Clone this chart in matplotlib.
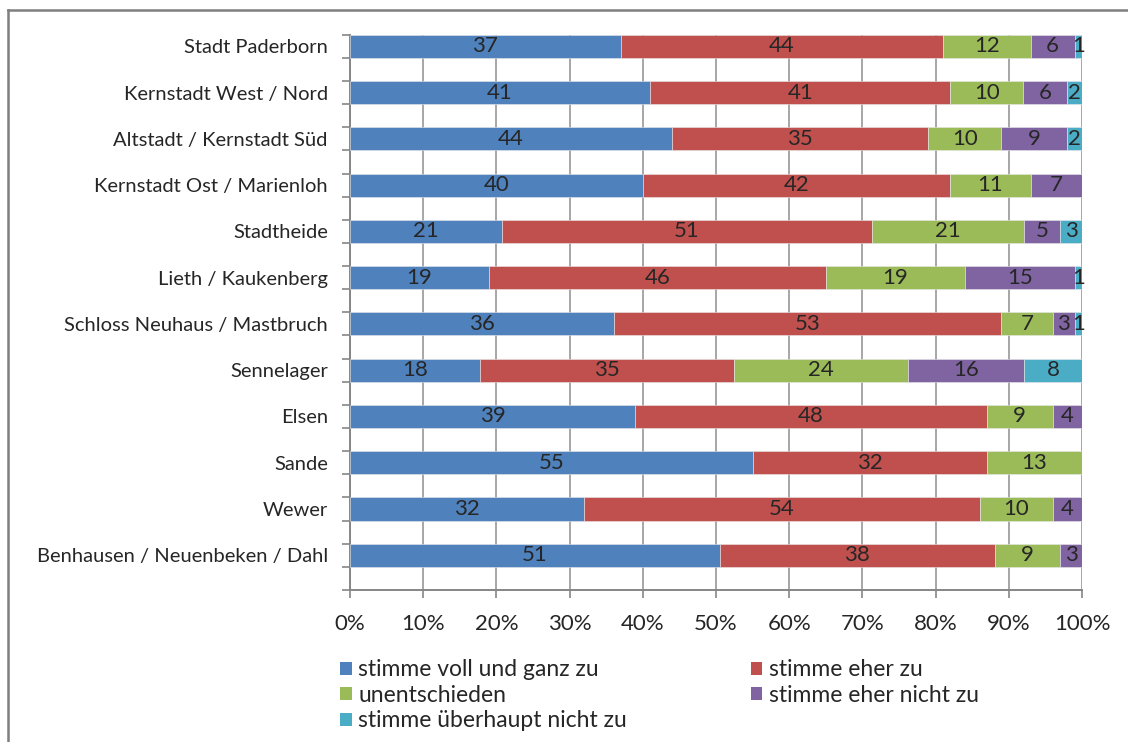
import matplotlib
matplotlib.use("Agg")
import matplotlib.pyplot as plt
from matplotlib.lines import Line2D
from matplotlib.patches import Patch
import numpy as np

plt.rcParams['font.family'] = ['Lato', 'DejaVu Sans']

districts = [
    "Stadt Paderborn",
    "Kernstadt West / Nord",
    "Altstadt / Kernstadt Süd",
    "Kernstadt Ost / Marienloh",
    "Stadtheide",
    "Lieth / Kaukenberg",
    "Schloss Neuhaus / Mastbruch",
    "Sennelager",
    "Elsen",
    "Sande",
    "Wewer",
    "Benhausen / Neuenbeken / Dahl",
]

series_names = [
    "stimme voll und ganz zu",
    "stimme eher zu",
    "unentschieden",
    "stimme eher nicht zu",
    "stimme überhaupt nicht zu",
]

voll_und_ganz = [37, 41, 44, 40, 21, 19, 36, 18, 39, 55, 32, 51]
eher_zu = [44, 41, 35, 42, 51, 46, 53, 35, 48, 32, 54, 38]
unentschieden = [12, 10, 10, 11, 21, 19, 7, 24, 9, 13, 10, 9]
eher_nicht_zu = [6, 6, 9, 7, 5, 15, 3, 16, 4, 0, 4, 3]
ueberhaupt_nicht_zu = [1, 2, 2, 0, 3, 1, 1, 8, 0, 0, 0, 0]

colors = ["#4f81bd", "#c0504d", "#9bbb59", "#8064a2", "#4bacc6"]

data = np.array([voll_und_ganz, eher_zu, unentschieden,
                 eher_nicht_zu, ueberhaupt_nicht_zu], dtype=float)
shares = data / data.sum(axis=0) * 100.0

fig = plt.figure(figsize=(11.28, 7.42), dpi=100)
ax = fig.add_axes([350 / 1128, 1 - 590 / 742, 732 / 1128, (590 - 34.7) / 742])

n = len(districts)
ypos = np.arange(n) * 2 + 0.5
label_fs = 14.5
num_fs = 16
legend_fs = 16.5
text_color = "#262626"

left = np.zeros(n)
for k in range(len(series_names)):
    ax.barh(ypos, shares[k], left=left, height=1.0, color=colors[k],
            edgecolor="#e8e8e8", linewidth=0.4, zorder=3)
    for i in range(n):
        if data[k, i] > 0:
            ax.text(left[i] + shares[k, i] / 2, ypos[i], f"{int(data[k, i])}",
                    ha="center", va="center", fontsize=num_fs,
                    color=text_color, zorder=4)
    left += shares[k]

ax.set_xlim(0, 100)
ax.set_ylim(2 * n, 0)

ax.set_xticks(np.arange(0, 101, 10))
ax.set_xticklabels([f"{v}%" for v in range(0, 101, 10)], fontsize=num_fs,
                   color=text_color)
ax.tick_params(axis="x", direction="out", length=6, width=1.2,
               color="#868686", pad=11)

ax.set_yticks(ypos)
ax.set_yticklabels(districts, fontsize=label_fs, color=text_color)
ax.set_yticks(np.arange(0, 2 * n + 1), minor=True)
ax.tick_params(axis="y", which="major", length=0, pad=16)
ax.tick_params(axis="y", which="minor", direction="out", length=6,
               width=1.2, color="#868686")

ax.grid(axis="x", color="#a6a6a6", linewidth=1.4, zorder=0)
ax.set_axisbelow(True)
for side in ["top", "right"]:
    ax.spines[side].set_visible(False)
for side in ["left", "bottom"]:
    ax.spines[side].set_color("#868686")
    ax.spines[side].set_linewidth(1.4)

# legend: left column blue/green/teal, right column red/purple
order = [0, 2, 4, 1, 3]
handles = [Patch(facecolor=colors[k], edgecolor="none") for k in order]
labels = [series_names[k] for k in order]
fig.legend(handles, labels, ncol=2, loc="upper left",
           bbox_to_anchor=(331 / 1128, 1 - 650 / 742), frameon=False,
           fontsize=legend_fs, handlelength=0.5, handleheight=0.5,
           handletextpad=0.3, columnspacing=5.4, labelspacing=0.2,
           labelcolor=text_color, borderaxespad=0)

# outer chart frame
fig.add_artist(Line2D([8 / 1128, 8 / 1128], [0, 1 - 10 / 742],
                      transform=fig.transFigure, color="#7f7f7f", linewidth=1.8))
fig.add_artist(Line2D([8 / 1128, 1], [1 - 10 / 742, 1 - 10 / 742],
                      transform=fig.transFigure, color="#7f7f7f", linewidth=1.8))

fig.savefig("out.png", dpi=100)
